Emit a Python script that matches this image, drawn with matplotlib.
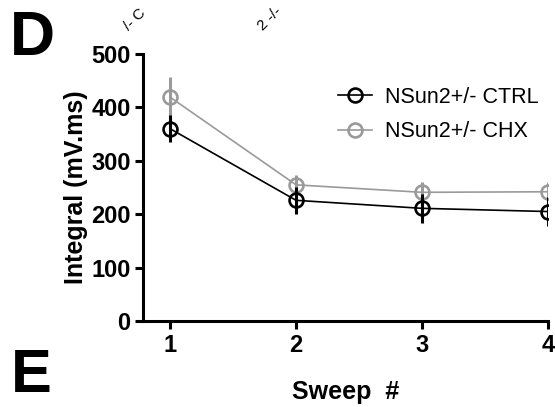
import matplotlib.pyplot as plt
from matplotlib.lines import Line2D

plt.rcParams['font.family'] = ['Liberation Sans', 'DejaVu Sans']

# values
sweeps = [1, 2, 3, 4]
ctrl_mean = [360, 226, 211, 205]
ctrl_err = [25, 25, 27, 27]
chx_mean = [419, 255, 241, 242]
chx_err = [38, 18, 20, 18]
labels = ['NSun2+/- CTRL', 'NSun2+/- CHX']
grey = '#9a9a9a'

fig = plt.figure(figsize=(5.55, 4.07), dpi=100)
ax = fig.add_axes([0.2577, 0.2113, 0.7293, 0.656])

ax.errorbar(sweeps, chx_mean, yerr=chx_err, color=grey, lw=1.2,
            marker='o', ms=10, mfc='none', mec=grey, mew=1.9,
            elinewidth=2.2, capsize=0, zorder=2)
ax.errorbar(sweeps, ctrl_mean, yerr=ctrl_err, color='black', lw=1.2,
            marker='o', ms=10, mfc='none', mec='black', mew=1.9,
            elinewidth=2.2, capsize=0, zorder=3)

ax.set_xlim(0.784, 4.0)
ax.set_ylim(0, 500)
ax.set_xticks(sweeps)
ax.set_yticks([0, 100, 200, 300, 400, 500])
for s in ['top', 'right']:
    ax.spines[s].set_visible(False)
for s in ['left', 'bottom']:
    ax.spines[s].set_linewidth(2.2)
ax.tick_params(width=2.2, length=6, labelsize=17, pad=3)
for t in ax.get_xticklabels() + ax.get_yticklabels():
    t.set_fontweight('bold')

ax.set_xlabel('Sweep  #', fontsize=18, fontweight='bold', labelpad=17)
ax.set_ylabel('Integral (mV.ms)', fontsize=18, fontweight='bold', labelpad=2)

handles = [Line2D([], [], color='black', lw=1.2, marker='o', ms=10,
                  mfc='none', mew=1.9),
           Line2D([], [], color=grey, lw=1.2, marker='o', ms=10,
                  mfc='none', mew=1.9)]
ax.legend(handles, labels, frameon=False, fontsize=15.5,
          loc='upper right', bbox_to_anchor=(1.025, 0.95),
          handlelength=1.6, handletextpad=0.6, labelspacing=0.62)

fig.text(0.018, 0.865, 'D', fontsize=45, fontweight='bold')
fig.text(0.02, 0.038, 'E', fontsize=44, fontweight='bold')

# fragments of rotated labels from the panel above
fig.text(0.232, 0.925, '/- C', fontsize=11, rotation=45,
         rotation_mode='anchor', ha='left', va='baseline')
fig.text(0.474, 0.925, '2 -/-', fontsize=11, rotation=45,
         rotation_mode='anchor', ha='left', va='baseline')

fig.savefig('out.png', dpi=100)
